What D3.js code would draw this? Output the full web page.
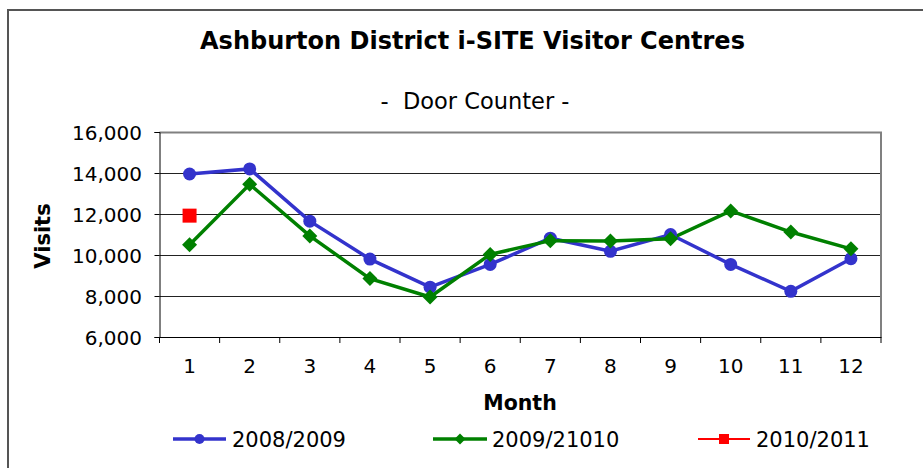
<!DOCTYPE html>
<html><head><meta charset="utf-8">
<script src="https://cdn.jsdelivr.net/npm/d3@7/dist/d3.min.js"></script>
<style>body{margin:0;background:#fff}svg{display:block;font-family:"DejaVu Sans",Verdana,sans-serif}</style>
</head><body><svg id="c" width="923" height="468"></svg>
<script>
const months = [1,2,3,4,5,6,7,8,9,10,11,12];
const s2008 = [13950,14200,11650,9800,8430,9540,10820,10180,11000,9540,8230,9820];
const s2009 = [10500,13450,10930,8850,7950,10030,10700,10680,10790,12150,11120,10300];
const s2010 = [11920];
const seriesNames = ["2008/2009","2009/21010","2010/2011"];
const yTicks = [6000,8000,10000,12000,14000,16000];

const svg = d3.select("#c");
const L=159.5, R=881, T=132, B=337;
const x = d3.scaleBand().domain(months).range([L,R]);
const y = d3.scaleLinear().domain([6000,16000]).range([B,T]);

// outer frame
svg.append("path").attr("d",`M8,${468}V10H923`).attr("fill","none").attr("stroke","#555").attr("stroke-width",2);

// titles
svg.append("text").attr("x",472.5).attr("y",49).attr("text-anchor","middle").attr("font-weight","bold").attr("font-size",24).text("Ashburton District i-SITE Visitor Centres");
svg.append("text").attr("x",475).attr("y",109).attr("text-anchor","middle").attr("font-size",22.5).attr("xml:space","preserve").text("-  Door Counter -");

// gridlines
svg.append("g").selectAll("line").data(yTicks.filter(d=>d>6000&&d<16000)).join("line")
  .attr("x1",L).attr("x2",R).attr("y1",d=>Math.round(y(d))+0.5).attr("y2",d=>Math.round(y(d))+0.5)
  .attr("stroke","#222").attr("stroke-width",1);
// plot border top/right
svg.append("path").attr("d",`M${L},${T+0.5}H${R}V${B}`).attr("fill","none").attr("stroke","#808080").attr("stroke-width",2);

// axes
const yAxis = d3.axisLeft(y).tickValues(yTicks).tickFormat(d3.format(",")).tickSize(5).tickPadding(12.5);
const gy = svg.append("g").attr("transform",`translate(${L},0)`).call(yAxis);
gy.select(".domain").attr("stroke","#000");
gy.selectAll("text").attr("font-size",20).attr("fill","#000").attr("font-family","DejaVu Sans").attr("dy","0.36em");

const xAxis = d3.axisBottom(x).tickSize(0).tickPadding(22);
const gx = svg.append("g").attr("transform",`translate(0,${B})`).call(xAxis);
gx.select(".domain").attr("stroke","#000");
gx.selectAll("text").attr("font-size",20).attr("fill","#000").attr("font-family","DejaVu Sans");
// tick marks between categories
const bounds = months.map(m=>x(m)).concat([R]);
svg.append("g").selectAll("line").data(bounds).join("line")
  .attr("x1",d=>d).attr("x2",d=>d).attr("y1",B).attr("y2",B+6).attr("stroke","#000");

// axis titles
svg.append("text").attr("x",520).attr("y",410).attr("text-anchor","middle").attr("font-weight","bold").attr("font-size",20.5).text("Month");
svg.append("text").attr("transform","translate(50,236) rotate(-90)").attr("text-anchor","middle").attr("font-weight","bold").attr("font-size",21).text("Visits");

const cx = m => x(m)+x.bandwidth()/2;
const line = d3.line().x((d,i)=>cx(months[i])).y(d=>y(d));
const diamond = (s)=>`M0,${-s}L${s},0L0,${s}L${-s},0Z`;

svg.append("path").datum(s2008).attr("d",line).attr("fill","none").attr("stroke","#3333CC").attr("stroke-width",3.5);
svg.append("path").datum(s2009).attr("d",line).attr("fill","none").attr("stroke","#008000").attr("stroke-width",3.5);

svg.append("g").selectAll("circle").data(s2008).join("circle")
  .attr("cx",(d,i)=>cx(months[i])).attr("cy",d=>y(d)).attr("r",6.5).attr("fill","#3333CC");
svg.append("g").selectAll("path").data(s2009).join("path")
  .attr("transform",(d,i)=>`translate(${cx(months[i])},${y(d)})`).attr("d",diamond(7.5)).attr("fill","#008000");
svg.append("g").selectAll("rect").data(s2010).join("rect")
  .attr("x",(d,i)=>cx(months[i])-7).attr("y",d=>y(d)-7).attr("width",14).attr("height",14).attr("fill","#FF0000");

// legend
const legY = 439;
const leg = [
  {name:seriesNames[0], x1:173, x2:226, c:"#3333CC", w:3.5, m:"c", tx:232},
  {name:seriesNames[1], x1:433, x2:487, c:"#008000", w:3.5, m:"d", tx:492},
  {name:seriesNames[2], x1:698, x2:750, c:"#FF0000", w:2, m:"s", tx:756}
];
const lg = svg.append("g").selectAll("g").data(leg).join("g");
lg.append("line").attr("x1",d=>d.x1).attr("x2",d=>d.x2).attr("y1",legY).attr("y2",legY).attr("stroke",d=>d.c).attr("stroke-width",d=>d.w);
lg.each(function(d){
  const g=d3.select(this), mx=(d.x1+d.x2)/2;
  if(d.m==="c") g.append("circle").attr("cx",mx).attr("cy",legY).attr("r",5).attr("fill",d.c);
  if(d.m==="d") g.append("path").attr("transform",`translate(${mx},${legY})`).attr("d",diamond(5.5)).attr("fill",d.c);
  if(d.m==="s") g.append("rect").attr("x",mx-5).attr("y",legY-5).attr("width",10).attr("height",10).attr("fill",d.c);
});
lg.append("text").attr("x",d=>d.tx).attr("y",legY).attr("dy","0.36em").attr("font-size",21).text(d=>d.name);
</script></body></html>
